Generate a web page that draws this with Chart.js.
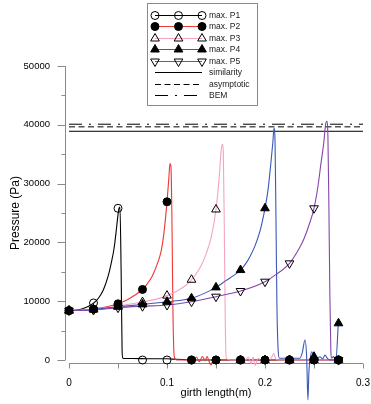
<!DOCTYPE html>
<html><head><meta charset="utf-8">
<script src="https://cdn.jsdelivr.net/npm/chart.js@4.4.1/dist/chart.umd.min.js"></script>
<style>html,body{margin:0;padding:0;background:#fff;}#wrap{width:371px;height:404px;position:relative;}</style>
</head><body><div id="wrap"><canvas id="c" width="371" height="404"></canvas></div>
<script>
// ---- data ----
const seriesNames = ['max. P1','max. P2','max. P3','max. P4','max. P5'];
const refNames = ['similarity','asymptotic','BEM'];
const xTickValues = [0, 0.1, 0.2, 0.3];
const xTickLabels = ['0', '0.1', '0.2', '0.3'];
const xMinorTicks = [0.05, 0.15, 0.25];
const yTickValues = [0, 10000, 20000, 30000, 40000, 50000];
const yMinorTicks = [5000, 15000, 25000, 35000, 45000];

const markerX = [0, 0.025, 0.05, 0.075, 0.1, 0.125, 0.15, 0.175, 0.2, 0.225, 0.25, 0.275];
const p1Mark = [8400, 9700, 25800, 0, 0, 0, 0, 0, 0, 0, 0, 0];
const p2Mark = [8400, 8650, 9550, 12000, 26900, 0, 0, 0, 0, 0, 0, 0];
const p3Mark = [8400, 8600, 9150, 9850, 10950, 13650, 25600, 0, 0, 0, 0, 0];
const p4Mark = [8400, 8600, 9050, 9450, 9900, 10500, 12350, 15300, 25800, 0, 560, 6240];
const p5Mark = [8400, 8500, 8900, 9150, 9350, 9920, 10770, 11730, 13320, 16440, 25800, 0];

const p1X = [0, 0.005, 0.01, 0.015, 0.02, 0.025, 0.03, 0.035, 0.04, 0.043, 0.046, 0.048, 0.0495, 0.051, 0.052, 0.0532, 0.0542, 0.055, 0.058, 0.065, 0.08, 0.1, 0.106, 0.12, 0.16, 0.2, 0.24, 0.275];
const p1Y = [8400, 8450, 8550, 8800, 9150, 9650, 10500, 11900, 14300, 16400, 19000, 21700, 24000, 25800, 26000, 15000, 1500, 300, 250, 250, 220, 200, 150, 50, 0, 0, 0, 0];

const p2X = [0, 0.01, 0.02, 0.025, 0.03, 0.04, 0.05, 0.055, 0.06, 0.065, 0.07, 0.075, 0.08, 0.085, 0.09, 0.094, 0.097, 0.1, 0.102, 0.103, 0.104, 0.105, 0.106, 0.107, 0.108, 0.11, 0.12, 0.127, 0.13, 0.133, 0.136, 0.139, 0.141, 0.143, 0.145, 0.147, 0.15, 0.16, 0.2, 0.24, 0.275];
const p2Y = [8400, 8450, 8550, 8650, 8800, 9100, 9550, 9900, 10300, 10800, 11350, 12000, 13000, 14300, 16300, 18500, 21800, 26900, 31200, 33400, 33000, 24500, 9000, 1500, 300, 0, 0, 0, 500, -300, 600, -100, 600, -300, -850, 0, 0, 0, 0, 0, 0];

const p3X = [0, 0.02, 0.04, 0.05, 0.06, 0.075, 0.09, 0.1, 0.11, 0.12, 0.125, 0.13, 0.135, 0.14, 0.145, 0.15, 0.153, 0.1555, 0.1565, 0.1575, 0.1585, 0.1595, 0.1605, 0.165, 0.175, 0.18, 0.183, 0.186, 0.188, 0.19, 0.193, 0.196, 0.2, 0.205, 0.207, 0.209, 0.211, 0.213, 0.22, 0.24, 0.275];
const p3Y = [8400, 8550, 8900, 9150, 9450, 9850, 10400, 10950, 11700, 12800, 13650, 14700, 16100, 18100, 20800, 25600, 30500, 36000, 36700, 35000, 22000, 6000, 300, 0, 0, 0, 500, -600, 500, -900, 300, 0, 0, 100, 500, 1100, 200, 0, 0, 0, 0];

const p4X = [0, 0.025, 0.05, 0.075, 0.1, 0.125, 0.15, 0.16, 0.17, 0.175, 0.18, 0.185, 0.19, 0.195, 0.2, 0.203, 0.206, 0.208, 0.2092, 0.2102, 0.2112, 0.2122, 0.2135, 0.2148, 0.22, 0.23, 0.2355, 0.238, 0.2408, 0.2425, 0.2438, 0.2448, 0.2462, 0.2476, 0.25, 0.253, 0.256, 0.259, 0.2612, 0.264, 0.268, 0.2724, 0.2748];
const p4Y = [8400, 8600, 9050, 9450, 9900, 10500, 12350, 13500, 14600, 15300, 16300, 17700, 19500, 22000, 25800, 28800, 33500, 37000, 39400, 37500, 24000, 9000, 1500, 300, 300, 300, 300, 1200, 3400, 500, -6800, -2000, 300, 1400, 500, 200, 560, 200, 850, 200, 0, 100, 6240];

const p5X = [0, 0.025, 0.05, 0.075, 0.1, 0.125, 0.15, 0.175, 0.2, 0.21, 0.225, 0.235, 0.24, 0.245, 0.25, 0.254, 0.257, 0.26, 0.2618, 0.263, 0.2642, 0.2652, 0.2662, 0.2672, 0.268, 0.27, 0.2715, 0.273, 0.275];
const p5Y = [8400, 8500, 8900, 9150, 9350, 9920, 10770, 11730, 13320, 14400, 16440, 19000, 20700, 23000, 25800, 29500, 33300, 37000, 40000, 40600, 38000, 26000, 11000, 1500, 300, 600, 200, 500, 0];

const refX = [0, 0.3];
const similarityY = 38900;
const asymptoticY = 39650;
const bemY = 40100;

// ---- styles ----
const lineColors = ['#000000', '#f03535', '#f5a3c5', '#3a58b8', '#8545aa'];
const markerStyles = [
  {style: 'circle', r: 4, fill: false, rot: 0},
  {style: 'circle', r: 4, fill: true, rot: 0},
  {style: 'triangle', r: 5, fill: false, rot: 0},
  {style: 'triangle', r: 5, fill: true, rot: 0},
  {style: 'triangle', r: 5, fill: false, rot: 180}
];
const refDash = [[], [6, 3.5], [13, 7, 2, 7]];

const zip = (xs, ys) => xs.map((x, i) => ({x: x, y: ys[i]}));
const curveX = [p1X, p2X, p3X, p4X, p5X];
const curveY = [p1Y, p2Y, p3Y, p4Y, p5Y];
const marks = [p1Mark, p2Mark, p3Mark, p4Mark, p5Mark];
const refY = [similarityY, asymptoticY, bemY];

const datasets = [];
refY.forEach((v, i) => datasets.push({
  label: refNames[i], data: zip(refX, refX.map(() => v)),
  borderColor: '#000', borderWidth: 1, borderDash: refDash[i], pointRadius: 0,
  clip: false, order: 30
}));
curveX.forEach((xs, i) => datasets.push({
  label: seriesNames[i], data: zip(xs, curveY[i]),
  borderColor: lineColors[i], borderWidth: 1.1, pointRadius: 0,
  cubicInterpolationMode: 'monotone', clip: false, order: 20 - i
}));
marks.forEach((ys, i) => {
  const m = markerStyles[i];
  datasets.push({
    label: seriesNames[i] + ' markers', data: zip(markerX, ys), showLine: false,
    pointStyle: m.style, pointRadius: m.r, pointRotation: m.rot,
    pointBackgroundColor: m.fill ? '#000' : 'rgba(0,0,0,0)', pointBorderColor: '#000',
    pointBorderWidth: 1, clip: false, order: 5 - i
  });
});

function drawMarker(ctx, m, x, y) {
  ctx.beginPath();
  if (m.style === 'circle') {
    ctx.arc(x, y, m.r, 0, Math.PI * 2);
  } else {
    let rad = m.rot * Math.PI / 180;
    for (let k = 0; k < 3; k++) {
      const px = x + Math.sin(rad) * m.r, py = y - Math.cos(rad) * m.r;
      if (k === 0) ctx.moveTo(px, py); else ctx.lineTo(px, py);
      rad += 2 * Math.PI / 3;
    }
    ctx.closePath();
  }
  if (m.fill) { ctx.fillStyle = '#000'; ctx.fill(); }
  ctx.strokeStyle = '#000'; ctx.lineWidth = 1; ctx.stroke();
}

const axesPlugin = {
  id: 'axesPlugin',
  beforeDatasetsDraw(chart) {
    const ctx = chart.ctx, xs = chart.scales.x, ys = chart.scales.y, ca = chart.chartArea;
    ctx.save();
    ctx.strokeStyle = '#8a8a8a'; ctx.lineWidth = 1;
    const axX = Math.round(ca.left) - 3.5;
    const yTop = ys.getPixelForValue(50000), yBot = ys.getPixelForValue(0);
    ctx.beginPath();
    ctx.moveTo(axX, yTop); ctx.lineTo(axX, yBot);
    yTickValues.forEach(v => { const y = Math.round(ys.getPixelForValue(v)) + 0.5; ctx.moveTo(axX - 8, y); ctx.lineTo(axX, y); });
    yMinorTicks.forEach(v => { const y = Math.round(ys.getPixelForValue(v)) + 0.5; ctx.moveTo(axX - 4, y); ctx.lineTo(axX, y); });
    const axY = Math.round(ca.bottom) + 3.5;
    ctx.moveTo(xs.getPixelForValue(0), axY); ctx.lineTo(xs.getPixelForValue(0.3), axY);
    xTickValues.forEach(v => { const x = Math.round(xs.getPixelForValue(v)) + 0.5; ctx.moveTo(x, axY); ctx.lineTo(x, axY + 5); });
    xMinorTicks.forEach(v => { const x = Math.round(xs.getPixelForValue(v)) + 0.5; ctx.moveTo(x, axY); ctx.lineTo(x, axY + 5); });
    ctx.stroke();
    ctx.restore();
  },
  afterDraw(chart) {
    const ctx = chart.ctx;
    ctx.save();
    ctx.fillStyle = '#fff'; ctx.fillRect(147.5, 3.5, 110, 102);
    ctx.strokeStyle = '#8a8a8a'; ctx.lineWidth = 1; ctx.strokeRect(147.5, 3.5, 110, 102);
    const x0 = 155, x1 = 202, xt = 209;
    const rows = seriesNames.concat(refNames);
    ctx.font = '8.5px "Liberation Sans", Arial, sans-serif';
    ctx.textBaseline = 'middle'; ctx.textAlign = 'left';
    rows.forEach((label, i) => {
      const y = Math.round(15 + i * 11.43) + 0.5;
      ctx.save();
      ctx.lineWidth = 1.1;
      if (i < 5) { ctx.strokeStyle = lineColors[i]; ctx.setLineDash([]); }
      else { ctx.strokeStyle = '#000'; ctx.setLineDash(refDash[i - 5]); }
      ctx.beginPath(); ctx.moveTo(x0, y); ctx.lineTo(x1, y); ctx.stroke();
      ctx.restore();
      if (i < 5) { [x0, (x0 + x1) / 2, x1].forEach(mx => drawMarker(ctx, markerStyles[i], mx, y)); }
      ctx.fillStyle = '#222';
      ctx.fillText(label, xt, y);
    });
    ctx.restore();
  }
};

Chart.defaults.font.family = '"Liberation Sans", Arial, sans-serif';
Chart.defaults.color = '#000';

new Chart(document.getElementById('c'), {
  type: 'line',
  data: {datasets: datasets},
  options: {
    responsive: false, animation: false, devicePixelRatio: 1,
    layout: {padding: {left: 0, right: 8, top: 66, bottom: 0}},
    plugins: {legend: {display: false}, tooltip: {enabled: false}},
    scales: {
      x: {
        type: 'linear', min: 0, max: 0.3,
        grid: {display: false, drawTicks: true, tickLength: 17}, border: {display: false},
        afterBuildTicks: s => { s.ticks = xTickValues.map(v => ({value: v})); },
        afterFit: s => { s.height = 44; },
        ticks: {padding: 0, font: {size: 10}, maxRotation: 0, callback: (v, i) => xTickLabels[i]},
        title: {display: true, text: 'girth length(m)', font: {size: 11}, padding: {top: 0, bottom: 4}}
      },
      y: {
        type: 'linear', min: 0, max: 50000,
        grid: {display: false, drawTicks: true, tickLength: 19}, border: {display: false},
        afterBuildTicks: s => { s.ticks = yTickValues.map(v => ({value: v})); },
        afterFit: s => { s.width = 69; },
        ticks: {padding: 0, font: {size: 9.5}, callback: v => String(v)},
        title: {display: true, text: 'Pressure (Pa)', font: {size: 12}, padding: {top: 8, bottom: 0}}
      }
    }
  },
  plugins: [axesPlugin]
});
</script>
</body></html>
